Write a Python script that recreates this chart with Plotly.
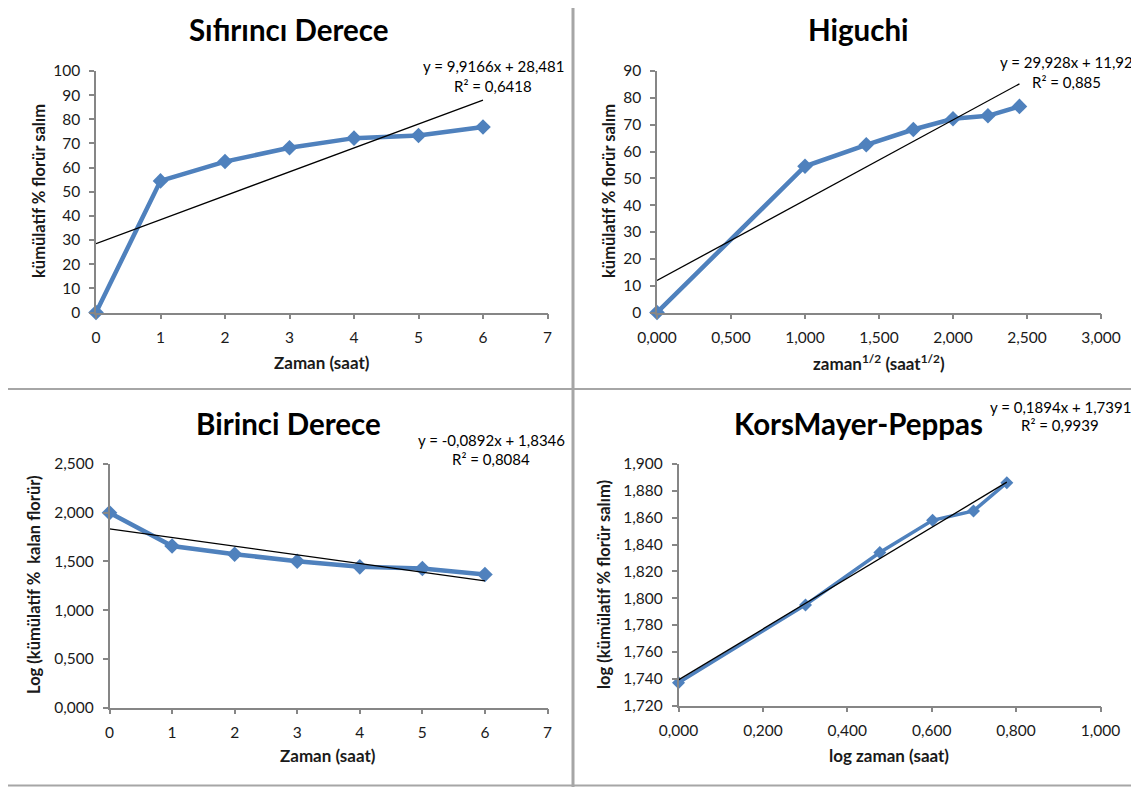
import plotly.graph_objects as go

W, H = 1139, 787
OFF = 8  # page body margin of the browser

# ---------------- data ----------------
zaman = [0, 1, 2, 3, 4, 5, 6]
salim = [0.0, 54.5, 62.5, 68.2, 72.2, 73.3, 76.8]

kok_zaman = [0.000, 1.000, 1.414, 1.732, 2.000, 2.236, 2.449]
higuchi_salim = [0.0, 54.5, 62.5, 68.2, 72.2, 73.3, 76.8]

birinci_zaman = [0, 1, 2, 3, 4, 5, 6]
log_kalan = [2.000, 1.658, 1.574, 1.502, 1.444, 1.427, 1.365]

log_zaman = [0.000, 0.301, 0.477, 0.602, 0.699, 0.778]
log_salim = [1.737, 1.795, 1.834, 1.858, 1.865, 1.886]

# trendline coefficients (slope, intercept) as printed
trend_sifir = (9.9166, 28.481)
trend_higuchi = (29.928, 11.92)
trend_birinci = (-0.0892, 1.8346)
trend_korsmeyer = (0.1894, 1.7391)

titles = ["Sıfırıncı Derece", "Higuchi", "Birinci Derece", "KorsMayer-Peppas"]
equations = [
    ("y = 9,9166x + 28,481", "R² = 0,6418"),
    ("y = 29,928x + 11,92", "R² = 0,885"),
    ("y = -0,0892x + 1,8346", "R² = 0,8084"),
    ("y = 0,1894x + 1,7391", "R² = 0,9939"),
]
x_titles = ["Zaman (saat)", "zaman<sup>1/2</sup> (saat<sup>1/2</sup>)", "Zaman (saat)", "log zaman (saat)"]
y_titles = ["kümülatif % florür salım", "kümülatif % florür salım",
            "Log (kümülatif %  kalan florür)", "log (kümülatif % florür salım)"]

# ---------------- layout geometry (pixels in the screenshot) ----------------
# (x_left, x_right, y_top, y_bottom)
boxes = [
    (96, 547.5, 71, 312.5),
    (657, 1101, 71, 312.5),
    (109.5, 547.5, 464, 707.5),
    (678.5, 1100.5, 464, 705.5),
]
x_ranges = [[0, 7], [0, 3], [0, 7], [0, 1]]
y_ranges = [[0, 100], [0, 90], [0, 2.5], [1.72, 1.90]]
x_dticks = [1, 0.5, 1, 0.2]
y_dticks = [10, 10, 0.5, 0.02]
x_fmt = ["d", ".3f", "d", ".3f"]
y_fmt = ["d", "d", ".3f", ".3f"]

title_pos = [(288, 30), (858, 30), (288, 423), (858, 423)]
eq_pos = [(493, 66, 86), (1066, 62, 82), (491, 440, 459), (1060, 407, 425)]
xt_pos = [(322, 363), (879, 363), (328, 755), (889, 755)]
yt_pos = [(39, 191), (609, 191), (34, 585), (604, 585)]

series = [
    (zaman, salim, trend_sifir, 4.5),
    (kok_zaman, higuchi_salim, trend_higuchi, 4.5),
    (birinci_zaman, log_kalan, trend_birinci, 4.5),
    (log_zaman, log_salim, trend_korsmeyer, 3.5),
]

BLUE = "#4F81BD"
AXIS = "#868686"
FONT = "Lato"
TXT = "#1a1a1a"

fig = go.Figure()
layout = dict(
    template="none",
    width=W, height=H, margin=dict(l=0, r=0, t=0, b=0, pad=0, autoexpand=False),
    paper_bgcolor="white", plot_bgcolor="white",
    showlegend=False, separators=", ",
    font=dict(family=FONT, color=TXT),
)


def px(x):
    return (x - OFF) / W


def py(y):
    return 1 - (y - OFF) / H


annotations = []
shapes = []

for i in range(4):
    n = "" if i == 0 else str(i + 1)
    xl, xr, yt, yb = boxes[i]
    xs, ys, (m, b), lw = series[i]
    fig.add_trace(go.Scatter(
        x=xs, y=ys, mode="lines+markers",
        line=dict(color=BLUE, width=lw),
        marker=dict(symbol="diamond", size=12 if lw > 4 else 10, color=BLUE),
        xaxis="x" + n, yaxis="y" + n, cliponaxis=False, hoverinfo="skip",
    ))
    tx = [min(xs), max(xs)]
    ty = [m * v + b for v in tx]
    fig.add_trace(go.Scatter(
        x=tx, y=ty, mode="lines", line=dict(color="black", width=1.3),
        xaxis="x" + n, yaxis="y" + n, cliponaxis=False, hoverinfo="skip",
    ))
    layout["xaxis" + n] = dict(
        domain=[px(xl), px(xr)], range=x_ranges[i], dtick=x_dticks[i], tick0=0,
        tickformat=x_fmt[i], showgrid=False, zeroline=False, showline=True,
        linecolor=AXIS, linewidth=1.5, ticks="outside", ticklen=5, tickcolor=AXIS,
        tickwidth=1.5, tickfont=dict(size=15.5, family=FONT, color=TXT),
        ticklabelstandoff=5, anchor="y" + n, fixedrange=True, automargin=False,
    )
    layout["yaxis" + n] = dict(
        domain=[py(yb), py(yt)], range=y_ranges[i], dtick=y_dticks[i],
        tick0=y_ranges[i][0], tickformat=y_fmt[i], showgrid=False, zeroline=False,
        showline=True, linecolor=AXIS, linewidth=1.5, ticks="outside", ticklen=5,
        tickcolor=AXIS, tickwidth=1.5, tickfont=dict(size=15.5, family=FONT, color=TXT),
        ticklabelstandoff=6, anchor="x" + n, fixedrange=True, automargin=False,
    )
    # title
    annotations.append(dict(
        text="<b>" + titles[i] + "</b>", x=px(title_pos[i][0]), y=py(title_pos[i][1]),
        xref="paper", yref="paper", showarrow=False, xanchor="center", yanchor="middle",
        font=dict(size=29.5, family=FONT, color="black"),
    ))
    # equation
    ex, ey1, ey2 = eq_pos[i]
    for txt, yy in ((equations[i][0], ey1), (equations[i][1], ey2)):
        annotations.append(dict(
            text=txt, x=px(ex), y=py(yy), xref="paper", yref="paper", showarrow=False,
            xanchor="center", yanchor="middle", font=dict(size=15, family=FONT, color="black"),
        ))
    # axis titles
    annotations.append(dict(
        text="<b>" + x_titles[i] + "</b>", x=px(xt_pos[i][0]), y=py(xt_pos[i][1]),
        xref="paper", yref="paper", showarrow=False, xanchor="center", yanchor="middle",
        font=dict(size=17, family=FONT, color=TXT),
    ))
    annotations.append(dict(
        text="<b>" + y_titles[i] + "</b>", x=px(yt_pos[i][0]), y=py(yt_pos[i][1]),
        xref="paper", yref="paper", showarrow=False, xanchor="center", yanchor="middle",
        textangle=-90, font=dict(size=16.5, family=FONT, color=TXT),
    ))

# separators between panels
SEP = "#A6A6A6"
shapes.append(dict(type="line", xref="paper", yref="paper", x0=px(573), x1=px(573),
                   y0=py(787), y1=py(0), line=dict(color=SEP, width=3)))
shapes.append(dict(type="line", xref="paper", yref="paper", x0=px(5), x1=px(1139),
                   y0=py(389), y1=py(389), line=dict(color=SEP, width=2)))
shapes.append(dict(type="line", xref="paper", yref="paper", x0=px(5), x1=px(1139),
                   y0=py(785.5), y1=py(785.5), line=dict(color=SEP, width=2)))

layout["annotations"] = annotations
layout["shapes"] = shapes
fig.update_layout(**layout)
fig.write_html("out.html", config={"displayModeBar": False})
